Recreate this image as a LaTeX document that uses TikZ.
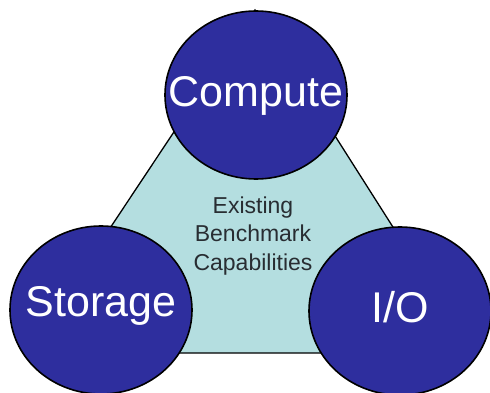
\documentclass[tikz,border=0pt]{standalone}
\usepackage{fontspec}
\setmainfont{Liberation Sans}
\usetikzlibrary{shapes.geometric}
\definecolor{discblue}{RGB}{46,46,158}
\definecolor{paleteal}{RGB}{180,222,224}
\definecolor{captiongray}{RGB}{40,45,50}
\tikzset{
  disc/.style={ellipse, draw=black, line width=1.6pt, fill=discblue,
    minimum width=182pt, minimum height=168pt, inner sep=0pt},
  disctext/.style={text=white, font=\fontsize{43}{43}\selectfont, inner sep=0pt},
  basetri/.style={draw=black, line width=1.3pt, fill=paleteal, line join=miter},
  caption/.style={align=center, text=captiongray,
    font=\fontsize{23}{28.5}\selectfont}
}
\begin{document}
\begin{tikzpicture}[x=1pt,y=-1pt]
  \useasboundingbox (0,0) rectangle (490,393);
  % triangle behind the three discs
  \coordinate (apex) at (255,10);
  \coordinate (bl) at (27,353);
  \coordinate (br) at (473,353);
  \filldraw[basetri] (apex) -- (bl) -- (br) -- cycle;
  \node[caption] (cap) at (253,236) {Existing\\Benchmark\\Capabilities};
  % the three discs
  \node[disc] (compute) at (256,95) {};
  \node[disc] (storage) at (101,310) {};
  \node[disc] (io) at (400,311) {};
  \node[disctext] (computetext) at ([yshift=-1pt]compute.center) {Compute};
  \node[disctext] (storagetext) at ([yshift=4pt]storage.center) {Storage};
  \node[disctext] (iotext) at ([yshift=4pt]io.center) {I/O};
\end{tikzpicture}
\end{document}
